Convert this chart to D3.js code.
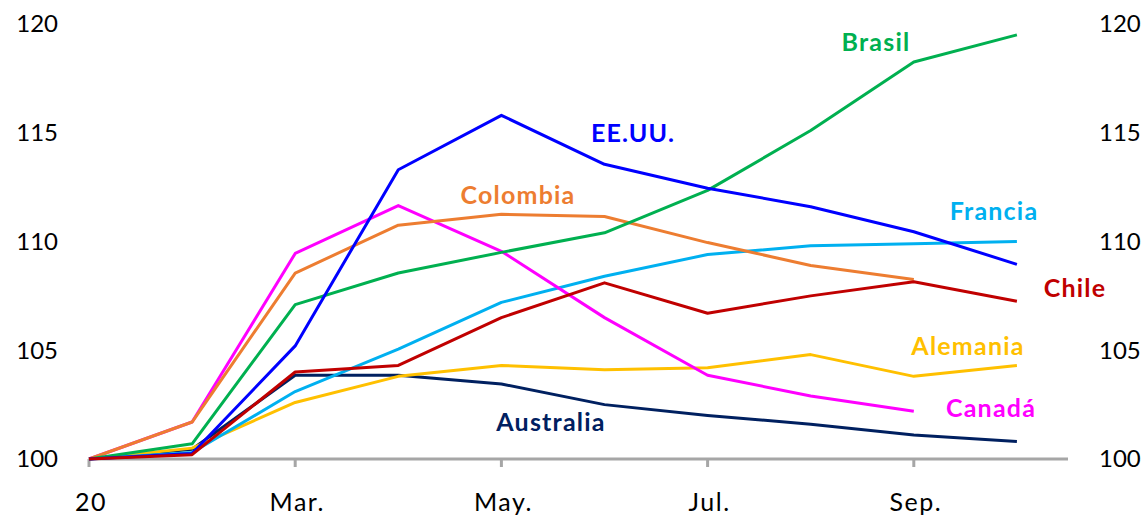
<!DOCTYPE html>
<html>
<head>
<meta charset="utf-8">
<script src="https://cdn.jsdelivr.net/npm/d3@7"></script>
<style>
  html, body { margin: 0; padding: 0; background: #fff; }
  svg { display: block; }
  text { font-family: Lato, "Open Sans", sans-serif; }
</style>
</head>
<body>
<svg id="chart" width="1146" height="517"></svg>
<script>
// Months of 2020 (index 0 = January)
const months = ["Ene.20", "Feb.", "Mar.", "Abr.", "May.", "Jun.", "Jul.", "Ago.", "Sep.", "Oct."];
const tickLabels = ["20", "Mar.", "May.", "Jul.", "Sep."];
const tickIndex = [0, 2, 4, 6, 8];
const yTicks = [100, 105, 110, 115, 120];

// Index values (Jan 2020 = 100)
const brasil    = [100, 100.7, 107.1, 108.55, 109.5, 110.4, 112.35, 115.1, 118.25, 119.5];
const eeuu      = [100, 100.25, 105.2, 113.3, 115.8, 113.55, 112.45, 111.6, 110.45, 108.95];
const colombia  = [100, 101.7, 108.55, 110.75, 111.25, 111.15, 109.95, 108.9, 108.25];
const francia   = [100, 100.3, 103.1, 105.05, 107.2, 108.4, 109.4, 109.8, 109.9, 110.0];
const chile     = [100, 100.2, 104.0, 104.3, 106.5, 108.1, 106.7, 107.5, 108.15, 107.25];
const alemania  = [100, 100.5, 102.6, 103.8, 104.3, 104.1, 104.2, 104.8, 103.8, 104.3];
const canada    = [100, 101.7, 109.45, 111.65, 109.55, 106.5, 103.85, 102.9, 102.2];
const australia = [100, 100.45, 103.85, 103.85, 103.45, 102.5, 102.0, 101.6, 101.1, 100.8];

const series = [
  { name: "Australia", values: australia, color: "#002060", lx: 551, ly: 422 },
  { name: "Alemania",  values: alemania,  color: "#FFC000", lx: 968, ly: 346 },
  { name: "Francia",   values: francia,   color: "#00B0F0", lx: 994, ly: 211 },
  { name: "Canadá",    values: canada,    color: "#FF00FF", lx: 991, ly: 408 },
  { name: "Colombia",  values: colombia,  color: "#ED7D31", lx: 518, ly: 195 },
  { name: "Brasil",    values: brasil,    color: "#00B050", lx: 876, ly: 42 },
  { name: "EE.UU.",    values: eeuu,      color: "#0000FF", lx: 633, ly: 133 },
  { name: "Chile",     values: chile,     color: "#C00000", lx: 1075, ly: 288 }
];

const svg = d3.select("#chart");
const x0 = 89, xStep = 103.1, axisEnd = 1068;

const x = d3.scaleLinear().domain([0, 1]).range([x0, x0 + xStep]);
const y = d3.scaleLinear().domain([100, 120]).range([459, 24]);

// Left value axis labels
svg.append("g").selectAll("text").data(yTicks).join("text")
  .attr("x", 58).attr("y", d => y(d)).attr("dy", "0.35em")
  .attr("text-anchor", "end").attr("font-size", 24).attr("fill", "#000")
  .text(d => d);

// Right value axis labels
svg.append("g").selectAll("text").data(yTicks).join("text")
  .attr("x", 1099).attr("y", d => y(d)).attr("dy", "0.35em")
  .attr("text-anchor", "start").attr("font-size", 24).attr("fill", "#000")
  .text(d => d);

// Category axis line and ticks
const axisG = svg.append("g");
axisG.append("line")
  .attr("x1", x(0)).attr("x2", axisEnd)
  .attr("y1", y(100)).attr("y2", y(100))
  .attr("stroke", "#A6A6A6").attr("stroke-width", 3);
axisG.selectAll("line.tick").data(tickIndex).join("line")
  .attr("class", "tick")
  .attr("x1", d => x(d)).attr("x2", d => x(d))
  .attr("y1", y(100)).attr("y2", y(100) + 8)
  .attr("stroke", "#A6A6A6").attr("stroke-width", 3);
axisG.selectAll("text").data(tickIndex).join("text")
  .attr("x", d => x(d) + 2).attr("y", 511)
  .attr("text-anchor", "middle").attr("font-size", 25)
  .attr("letter-spacing", 1.5).attr("fill", "#000")
  .text((d, i) => tickLabels[i]);

// Series lines
const line = d3.line().x((d, i) => x(i)).y(d => y(d));
svg.append("g").selectAll("path").data(series).join("path")
  .attr("d", d => line(d.values))
  .attr("fill", "none")
  .attr("stroke", d => d.color)
  .attr("stroke-width", 3)
  .attr("stroke-linejoin", "round");

// Series labels
svg.append("g").selectAll("text").data(series).join("text")
  .attr("x", d => d.lx).attr("y", d => d.ly).attr("dy", "0.35em")
  .attr("text-anchor", "middle")
  .attr("font-size", 25).attr("font-weight", "bold")
  .attr("letter-spacing", 1.2)
  .attr("fill", d => d.color)
  .text(d => d.name);
</script>
</body>
</html>
